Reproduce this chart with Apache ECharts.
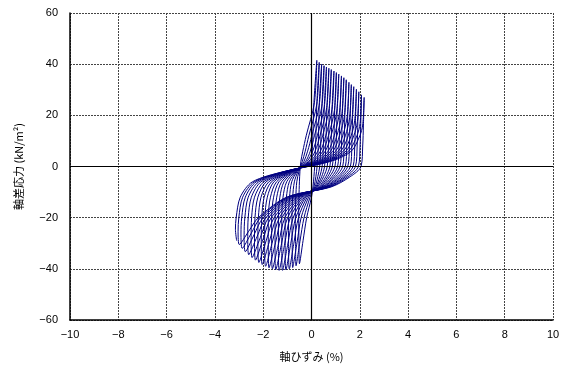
<!DOCTYPE html>
<html><head><meta charset="utf-8">
<script src="https://cdn.jsdelivr.net/npm/echarts@6/dist/echarts.min.js"></script>
<style>html,body{margin:0;padding:0;background:#fff}#c{width:571px;height:370px}</style>
</head><body><div id="c"></div>
<script>
// x: axial strain (%), y: deviator stress (kN/m2); each cycle = unloading to extension peak, then reloading
const xTicks = [-10,-8,-6,-4,-2,0,2,4,6,8,10];
const yTicks = [-60,-40,-20,0,20,40,60];
const initLoad = [[0,0],[0.05,10],[0.1,25]];
const cycle00 = [[0.22,41.5],[0.12,24.9],[-0.22,12],[-0.36,6],[-0.44,2],[-0.48,-2],[-0.50,-6],[-0.52,-12],[-0.53,-20],[-0.52,-29],[-0.50,-38.0],
  [-0.35,-29],[-0.20,-20],[0.00,-12],[0.06,-8],[0.10,-4],[0.13,0],[0.17,8],[0.22,24.4]];
const cycle01 = [[0.32,40.7],[0.22,24.4],[-0.11,12],[-0.26,6],[-0.38,2],[-0.52,-2],[-0.61,-6],[-0.65,-12],[-0.67,-20],[-0.66,-29.4],[-0.64,-38.8],
  [-0.48,-29.4],[-0.31,-20],[-0.06,-12],[0.10,-8],[0.18,-4],[0.23,0],[0.28,8],[0.32,24]];
const cycle02 = [[0.42,40.0],[0.32,24],[0.01,12],[-0.16,6],[-0.31,2],[-0.56,-2],[-0.71,-6],[-0.78,-12],[-0.81,-20],[-0.80,-29.8],[-0.78,-39.5],
  [-0.60,-29.8],[-0.43,-20],[-0.12,-12],[0.14,-8],[0.26,-4],[0.34,0],[0.38,8],[0.43,23.6]];
const cycle03 = [[0.52,39.4],[0.43,23.6],[0.12,12],[-0.05,6],[-0.24,2],[-0.60,-2],[-0.82,-6],[-0.91,-12],[-0.95,-20],[-0.95,-30],[-0.92,-40.0],
  [-0.73,-30],[-0.54,-20],[-0.18,-12],[0.18,-8],[0.34,-4],[0.44,0],[0.49,8],[0.53,23.3]];
const cycle04 = [[0.62,38.9],[0.53,23.3],[0.24,12],[0.05,6],[-0.18,2],[-0.63,-2],[-0.92,-6],[-1.04,-12],[-1.09,-20],[-1.09,-30.2],[-1.06,-40.4],
  [-0.86,-30.2],[-0.65,-20],[-0.24,-12],[0.21,-8],[0.42,-4],[0.54,0],[0.59,8],[0.64,23]];
const cycle05 = [[0.72,38.4],[0.63,23],[0.35,12],[0.15,6],[-0.11,2],[-0.67,-2],[-1.03,-6],[-1.18,-12],[-1.23,-20],[-1.23,-30.3],[-1.20,-40.6],
  [-0.98,-30.3],[-0.76,-20],[-0.29,-12],[0.25,-8],[0.50,-4],[0.65,0],[0.70,8],[0.74,22.7]];
const cycle06 = [[0.82,37.9],[0.73,22.7],[0.46,12],[0.26,6],[-0.05,2],[-0.71,-2],[-1.14,-6],[-1.31,-12],[-1.37,-20],[-1.37,-30.3],[-1.34,-40.6],
  [-1.11,-30.3],[-0.88,-20],[-0.35,-12],[0.30,-8],[0.59,-4],[0.76,0],[0.81,8],[0.85,22.4]];
const cycle07 = [[0.93,37.3],[0.85,22.4],[0.59,12],[0.37,6],[0.02,2],[-0.75,-2],[-1.24,-6],[-1.44,-12],[-1.51,-20],[-1.51,-30.2],[-1.48,-40.4],
  [-1.24,-30.2],[-0.99,-20],[-0.41,-12],[0.34,-8],[0.67,-4],[0.86,0],[0.92,8],[0.96,22]];
const cycle08 = [[1.03,36.7],[0.95,22],[0.70,12],[0.47,6],[0.08,2],[-0.79,-2],[-1.35,-6],[-1.57,-12],[-1.65,-20],[-1.65,-30],[-1.62,-40.0],
  [-1.36,-30],[-1.10,-20],[-0.47,-12],[0.38,-8],[0.75,-4],[0.97,0],[1.02,8],[1.06,21.7]];
const cycle09 = [[1.13,36.1],[1.05,21.7],[0.81,12],[0.57,6],[0.15,2],[-0.83,-2],[-1.45,-6],[-1.70,-12],[-1.79,-20],[-1.79,-29.8],[-1.76,-39.6],
  [-1.49,-29.8],[-1.22,-20],[-0.53,-12],[0.43,-8],[0.84,-4],[1.08,0],[1.14,8],[1.18,21.2]];
const cycle10 = [[1.24,35.4],[1.16,21.2],[0.94,12],[0.69,6],[0.21,2],[-0.87,-2],[-1.56,-6],[-1.83,-12],[-1.93,-20],[-1.94,-29.5],[-1.90,-39.0],
  [-1.62,-29.5],[-1.33,-20],[-0.59,-12],[0.46,-8],[0.92,-4],[1.18,0],[1.24,8],[1.28,20.8]];
const cycle11 = [[1.34,34.7],[1.26,20.8],[1.05,12],[0.79,6],[0.28,2],[-0.90,-2],[-1.66,-6],[-1.96,-12],[-2.06,-20],[-2.08,-29.2],[-2.04,-38.3],
  [-1.74,-29.2],[-1.44,-20],[-0.65,-12],[0.50,-8],[1.00,-4],[1.29,0],[1.35,8],[1.38,20.3]];
const cycle12 = [[1.44,33.9],[1.37,20.3],[1.16,12],[0.89,6],[0.34,2],[-0.94,-2],[-1.77,-6],[-2.09,-12],[-2.20,-20],[-2.22,-28.8],[-2.18,-37.5],
  [-1.87,-28.8],[-1.55,-20],[-0.71,-12],[0.55,-8],[1.09,-4],[1.40,0],[1.46,8],[1.50,19.7]];
const cycle13 = [[1.55,32.9],[1.48,19.7],[1.29,12],[1.00,6],[0.41,2],[-0.98,-2],[-1.88,-6],[-2.22,-12],[-2.34,-20],[-2.36,-28.3],[-2.32,-36.6],
  [-2.00,-28.3],[-1.67,-20],[-0.77,-12],[0.59,-8],[1.17,-4],[1.50,0],[1.57,8],[1.60,19.2]];
const cycle14 = [[1.65,32.0],[1.58,19.2],[1.40,12],[1.11,6],[0.47,2],[-1.02,-2],[-1.98,-6],[-2.36,-12],[-2.48,-20],[-2.50,-27.8],[-2.46,-35.6],
  [-2.12,-27.8],[-1.78,-20],[-0.82,-12],[0.63,-8],[1.25,-4],[1.61,0],[1.67,8],[1.70,18.7]];
const cycle15 = [[1.75,31.2],[1.68,18.7],[1.52,12],[1.21,6],[0.54,2],[-1.06,-2],[-2.09,-6],[-2.49,-12],[-2.62,-20],[-2.64,-27.3],[-2.60,-34.5],
  [-2.25,-27.3],[-1.89,-20],[-0.88,-12],[0.68,-8],[1.34,-4],[1.72,0],[1.79,8],[1.82,18.1]];
const cycle16 = [[1.86,30.2],[1.79,18.1],[1.64,12],[1.32,6],[0.60,2],[-1.10,-2],[-2.19,-6],[-2.62,-12],[-2.76,-20],[-2.79,-26.7],[-2.74,-33.3],
  [-2.38,-26.7],[-2.00,-20],[-0.94,-12],[0.71,-8],[1.42,-4],[1.82,0],[1.89,8],[1.92,17.5]];
const cycle17 = [[1.96,29.2],[1.90,17.5],[1.75,12],[1.43,6],[0.67,2],[-1.12,-2],[-2.29,-6],[-2.74,-12],[-2.89,-20],[-2.92,-26],[-2.87,-32.0],
  [-2.49,-26],[-2.11,-20],[-0.99,-12],[0.76,-8],[1.51,-4],[1.94,0],[2.01,8],[2.04,16.8]];
const cycle18 = [[2.07,28.0],[2.01,16.8],[1.88,12],[1.54,6],[0.73,2],[-1.14,-2],[-2.37,-6],[-2.85,-12],[-3.01,-20],[-3.04,-25.3],[-2.99,-30.5],
  [-2.60,-25.3],[-2.20,-20],[-1.03,-12],[0.81,-8],[1.60,-4],[2.05,0],[2.12,8],[2.15,16.2]];
const cycle19 = [[2.18,27.0],[2.12,16.2],[2.00,12],[1.65,6],[0.80,2],[-1.15,-2],[-2.45,-6],[-2.95,-12],[-3.12,-20],[-3.15,-24.5],[-3.10,-29.0]];

const path = [].concat(initLoad, cycle00, cycle01, cycle02, cycle03, cycle04, cycle05, cycle06, cycle07,
  cycle08, cycle09, cycle10, cycle11, cycle12, cycle13, cycle14, cycle15, cycle16, cycle17, cycle18, cycle19);

const numFont = 'Liberation Sans, Arial, sans-serif';
const jpFont = 'Noto Sans CJK JP, sans-serif';
const minus = v => String(v).replace('-', '\u2212');

const chart = echarts.init(document.getElementById('c'), null, {renderer: 'canvas'});
chart.setOption({
  animation: false,
  backgroundColor: '#fff',
  grid: {left: 70, right: 18, top: 13, bottom: 50},
  xAxis: {
    type: 'value', min: xTicks[0], max: xTicks[xTicks.length - 1], interval: 2,
    axisLine: {onZero: false, lineStyle: {color: '#000', width: 1.5}},
    axisTick: {show: false},
    axisLabel: {formatter: minus, color: '#000', fontSize: 11, margin: 9, fontFamily: numFont},
    splitLine: {show: true, lineStyle: {type: [2, 1], color: '#444', width: 1}},
    name: '軸ひずみ (%)', nameLocation: 'middle', nameGap: 31,
    nameTextStyle: {color: '#000', fontSize: 11, fontFamily: jpFont}
  },
  yAxis: {
    type: 'value', min: yTicks[0], max: yTicks[yTicks.length - 1], interval: 20,
    axisLine: {onZero: false, lineStyle: {color: '#000', width: 1.5}},
    axisTick: {show: false},
    axisLabel: {formatter: minus, color: '#000', fontSize: 11, margin: 12, fontFamily: numFont},
    splitLine: {show: true, lineStyle: {type: [2, 1], color: '#444', width: 1}},
    name: '軸差応力 (kN/m²)', nameLocation: 'middle', nameGap: 46,
    nameTextStyle: {color: '#000', fontSize: 11, fontFamily: jpFont}
  },
  series: [{
    type: 'line', data: path, showSymbol: false, smooth: 0.3,
    lineStyle: {color: '#000080', width: 1},
    markLine: {
      silent: true, symbol: 'none', label: {show: false}, animation: false,
      lineStyle: {color: '#000', type: 'solid', width: 1.2},
      data: [{xAxis: 0}, {yAxis: 0}]
    },
    z: 3
  }]
});
</script>
</body></html>
